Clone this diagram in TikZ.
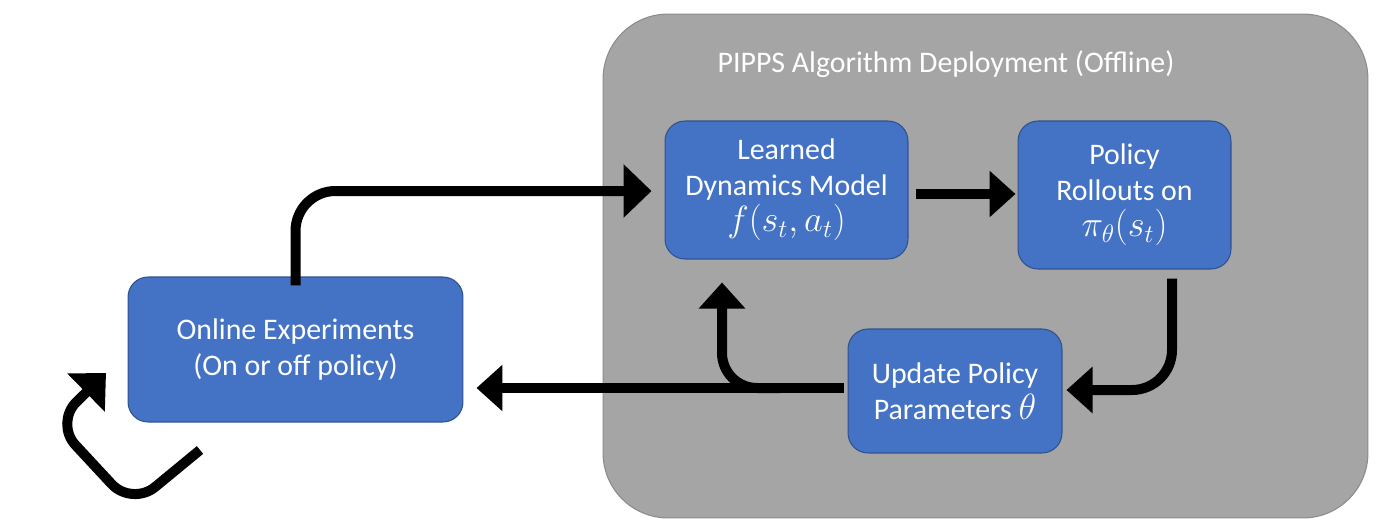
\documentclass[tikz,border=0pt]{standalone}
\usepackage{fontspec}
\setmainfont{Carlito}
\usetikzlibrary{arrows.meta,calc}
\definecolor{boxblue}{HTML}{4472C4}
\definecolor{boxedge}{HTML}{2F528F}
\definecolor{grpgray}{HTML}{A5A5A5}
\definecolor{grpedge}{HTML}{8C8C8C}
\newcommand{\bigmath}[1]{{\fontsize{21}{20.4}\selectfont$#1$}}
\begin{document}
\begin{tikzpicture}[x=0.02cm,y=-0.02cm,
  blk/.style={draw=boxedge, line width=0.6pt, fill=boxblue, rounded corners=0.4cm,
    text=white, align=center, inner sep=0pt,
    font=\fontsize{17}{20.4}\selectfont},
  arr/.style={line width=0.2cm, draw=black, -{Triangle[length=0.52cm,width=0.9cm]}},
  bigarr/.style={line width=0.2cm, draw=black, -{Triangle[length=0.56cm,width=1.04cm]}}
]
\useasboundingbox (0,0) rectangle (1400,531);
% group
\node[draw=grpedge, line width=0.6pt, fill=grpgray, rounded corners=1.3cm,
  minimum width=15.3cm, minimum height=10.08cm, inner sep=0pt] (grp) at (985.5,266) {};
\node[text=white, font=\fontsize{17}{20.4}\selectfont, inner sep=0pt] (title) at (946,64)
  {PIPPS Algorithm Deployment (Offline)};
% blocks
\node[blk, minimum width=4.86cm, minimum height=2.76cm] (learned) at (786.5,190)
  {Learned\\Dynamics Model\\\bigmath{f(s_t,a_t)}};
\node[blk, minimum width=4.26cm, minimum height=2.96cm] (policy) at (1124.5,195)
  {Policy\\Rollouts on\\\bigmath{\pi_\theta(s_t)}};
\node[blk, minimum width=4.28cm, minimum height=2.48cm] (update) at (955,391)
  {Update Policy\\Parameters \bigmath{\theta}};
\node[blk, minimum width=6.7cm, minimum height=2.9cm] (online) at (295.5,349.5)
  {Online Experiments\\(On or off policy)};
% connectors
\draw[bigarr, rounded corners=0.8cm] ([yshift=-0.18cm]online.north) |- ([xshift=-0.26cm]learned.west |- 0,191);
\draw[arr] ([xshift=0.14cm]learned.east |- 0,194) -- ([xshift=-0.04cm]policy.west |- 0,194);
\draw[arr, rounded corners=0.8cm] ($(policy.south)+(0.95cm,-0.18cm)$) |- ([xshift=0.08cm]update.east |- 0,390);
\draw[arr] ([xshift=-0.08cm]update.west |- 0,388) -- ([xshift=0.26cm]online.east |- 0,388);
\coordinate (br) at (780,388);
\draw[arr, rounded corners=0.7cm] (br) -| ([xshift=-1.29cm,yshift=-0.46cm]learned.south);
\coordinate (l0) at (200,450);
\coordinate (l1) at (132,506);
\coordinate (l2) at (55,423);
\coordinate (l3) at (106,373);
\draw[bigarr, rounded corners=0.6cm] (l0) -- (l1) -- (l2) -- (l3);
\end{tikzpicture}
\end{document}
